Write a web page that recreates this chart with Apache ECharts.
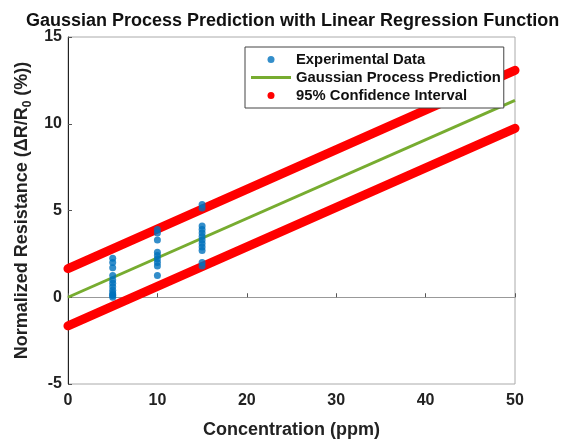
<!DOCTYPE html>
<html><head><meta charset="utf-8">
<script src="https://cdn.jsdelivr.net/npm/echarts@6/dist/echarts.min.js"></script>
<style>html,body{margin:0;padding:0;background:#fff}#c{width:561px;height:439px}</style>
</head><body><div id="c"></div>
<script>
const xTicks = [0, 10, 20, 30, 40, 50];
const yTicks = [-5, 0, 5, 10, 15];
const expX5 = [2.25, 2.0, 1.7, 1.25, 1.0, 0.8, 0.6, 0.4, 0.25, 0.1, 0.0, 0.15];
const expX10 = [3.9, 3.7, 3.3, 2.6, 2.4, 2.2, 2.0, 1.8, 1.25];
const expX15 = [5.35, 5.15, 4.1, 3.9, 3.7, 3.5, 3.3, 3.1, 2.9, 2.7, 2.0, 1.8];
const predX = [0, 50];
const predY = [0.0, 11.35];
const upperY = [1.65, 13.08];
const lowerY = [-1.65, 9.74];

const FONT = 'Arial, "Liberation Sans", sans-serif';
const expData = [];
expX5.forEach(v => expData.push([5, v]));
expX10.forEach(v => expData.push([10, v]));
expX15.forEach(v => expData.push([15, v]));
const pair = ys => predX.map((x, i) => [x, ys[i]]);

const chart = echarts.init(document.getElementById('c'));
chart.setOption({
  animation: false,
  title: {
    text: 'Gaussian Process Prediction with Linear Regression Function',
    left: 21, top: 7,
    textStyle: {fontFamily: FONT, fontSize: 18, fontWeight: 'bold', color: '#111'}
  },
  grid: {left: 68, right: 46, top: 37, bottom: 55, show: true, borderColor: '#aaa', borderWidth: 1,
         containLabel: false, outerBoundsMode: 'none'},
  legend: {
    orient: 'vertical', left: 245, top: 47,
    padding: [5, 3, 5, 6], itemGap: 3, itemWidth: 40, itemHeight: 7,
    backgroundColor: '#fff', borderColor: '#444', borderWidth: 1,
    textStyle: {fontFamily: FONT, fontSize: 14.8, fontWeight: 'bold', color: '#111'},
    data: [
      {name: 'Experimental Data', icon: 'circle'},
      {name: 'Gaussian Process Prediction', icon: 'path://M0,0H40V3H0Z'},
      {name: '95% Confidence Interval', icon: 'circle'}
    ]
  },
  xAxis: {
    type: 'value', min: xTicks[0], max: xTicks[xTicks.length - 1], interval: 10,
    name: 'Concentration (ppm)', nameLocation: 'middle', nameGap: 37,
    nameTextStyle: {fontFamily: FONT, fontSize: 18, fontWeight: 'bold', color: '#222'},
    axisLine: {lineStyle: {color: '#999'}},
    axisTick: {inside: true, length: 4, lineStyle: {color: '#555'}},
    axisLabel: {fontFamily: FONT, fontSize: 16, fontWeight: 'bold', color: '#222', margin: 9},
    splitLine: {show: false}
  },
  yAxis: {
    type: 'value', min: yTicks[0], max: yTicks[yTicks.length - 1], interval: 5,
    name: '{n|Normalized Resistance (ΔR/R}{s|0}{n| (%))}', nameLocation: 'middle', nameGap: 33,
    nameTextStyle: {
      fontFamily: FONT, fontSize: 18, fontWeight: 'bold', color: '#222',
      rich: {
        n: {fontFamily: FONT, fontSize: 18, fontWeight: 'bold', color: '#222'},
        s: {fontFamily: FONT, fontSize: 12, fontWeight: 'bold', color: '#222', padding: [10, 0, 0, 0]}
      }
    },
    axisLine: {show: true, lineStyle: {color: '#222'}},
    axisTick: {inside: true, length: 4, lineStyle: {color: '#555'}},
    axisLabel: {fontFamily: FONT, fontSize: 16, fontWeight: 'bold', color: '#222', margin: 6},
    splitLine: {show: false}
  },
  series: [
    {
      name: '95% Confidence Interval', type: 'line', data: pair(upperY),
      showSymbol: false, symbol: 'none', lineStyle: {color: '#ff0000', width: 9, cap: 'round'},
      itemStyle: {color: '#ff0000'}, z: 2
    },
    {
      name: '95% Confidence Interval', type: 'line', data: pair(lowerY),
      showSymbol: false, symbol: 'none', lineStyle: {color: '#ff0000', width: 9, cap: 'round'},
      itemStyle: {color: '#ff0000'}, z: 2
    },
    {
      name: 'Gaussian Process Prediction', type: 'line', data: pair(predY),
      showSymbol: false, symbol: 'none', lineStyle: {color: '#77ac30', width: 3},
      itemStyle: {color: '#77ac30'}, z: 3
    },
    {
      name: 'Experimental Data', type: 'scatter', data: expData,
      symbol: 'circle', symbolSize: 7, itemStyle: {color: '#0072bd'}, z: 4
    }
  ]
});
</script></body></html>
